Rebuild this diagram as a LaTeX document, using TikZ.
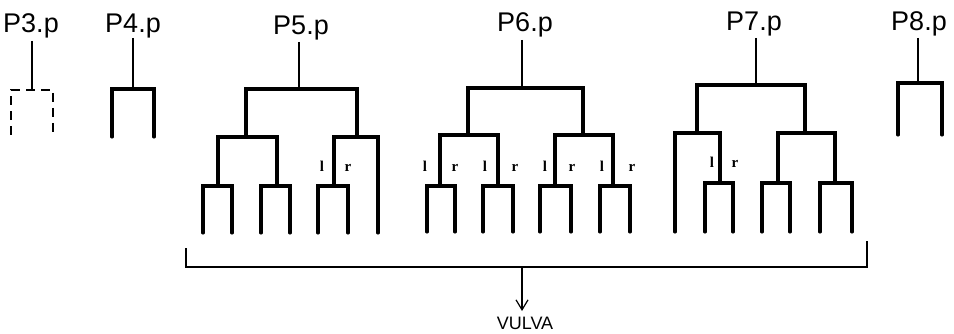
\documentclass[tikz,border=0pt]{standalone}
\usepackage{fontspec}
\newfontfamily\labfont{Liberation Sans}
\newfontfamily\lrfont{Liberation Serif}
\usetikzlibrary{arrows.meta}
\tikzset{
  tree/.style={line width=3.1pt, line cap=round, line join=miter},
  stem/.style={line width=2.2pt},
  dashtree/.style={line width=2.6pt, dash pattern=on 9pt off 6pt},
  brk/.style={line width=1.5pt},
  plabel/.style={font=\labfont\fontsize{27}{27}\selectfont, anchor=base, inner sep=0pt},
  lr/.style={font=\lrfont\bfseries\fontsize{15}{15}\selectfont, inner sep=0pt, anchor=base},
  vulva/.style={font=\labfont\fontsize{18}{18}\selectfont, inner sep=0pt, anchor=base}
}
\begin{document}
\begin{tikzpicture}[x=1pt,y=-1pt]
\useasboundingbox (0,0) rectangle (954,334);

% labels
\node[plabel] (P3) at (31,33) {P3.p};
\node[plabel] (P4) at (133,33) {P4.p};
\node[plabel] (P5) at (301,35) {P5.p};
\node[plabel] (P6) at (525,32) {P6.p};
\node[plabel] (P7) at (754,31) {P7.p};
\node[plabel] (P8) at (919,31) {P8.p};

% junction coordinates
\coordinate (j3) at (32,90);
\coordinate (j4) at (133,89);
\coordinate (j5) at (299,89);
\coordinate (j6) at (522,88);
\coordinate (j7) at (756,85);
\coordinate (j8) at (918,83);

% stems
\draw[stem] (j3 |- 0,41) -- (j3);
\draw[stem] (j4 |- 0,38) -- (j4);
\draw[stem] (j5 |- 0,42) -- (j5);
\draw[stem] (j6 |- 0,40) -- (j6);
\draw[stem] (j7 |- 0,38) -- (j7);
\draw[stem] (j8 |- 0,38) -- (j8);

% P3 (dashed)
\draw[dashtree] (11,135) |- (53,90) -- (53,135);
% P4
\draw[tree] (112,137) |- (154,89) -- (154,137);

% P5
\draw[tree] (246,137) |- (357,89) -- (357,137);
\draw[tree] (218,186) |- (277,137) -- (277,186);
\draw[tree] (203,233) |- (232,186) -- (232,233);
\draw[tree] (261,233) |- (290,186) -- (290,233);
\draw[tree] (334,186) |- (378,137) -- (378,233);
\draw[tree] (318,233) |- (348,186) -- (348,233);
\node[lr] (l5) at (322,172) {l};
\node[lr] (r5) at (348,172) {r};

% P6
\draw[tree] (468,135) |- (583,88) -- (583,135);
\draw[tree] (440,186) |- (498,135) -- (498,186);
\draw[tree] (555,186) |- (613,135) -- (613,186);
\draw[tree] (427,232) |- (455,186) -- (455,232);
\draw[tree] (483,232) |- (513,186) -- (513,232);
\draw[tree] (540,232) |- (571,186) -- (571,232);
\draw[tree] (600,232) |- (630,186) -- (630,232);
\node[lr] (l6a) at (425,172) {l};
\node[lr] (r6a) at (455,172) {r};
\node[lr] (l6b) at (485,172) {l};
\node[lr] (r6b) at (515,172) {r};
\node[lr] (l6c) at (545,172) {l};
\node[lr] (r6c) at (572,172) {r};
\node[lr] (l6d) at (602,172) {l};
\node[lr] (r6d) at (632,172) {r};

% P7
\draw[tree] (697,133) |- (805,85) -- (805,133);
\draw[tree] (675,232) |- (720,133) -- (720,183);
\draw[tree] (705,232) |- (733,183) -- (733,232);
\draw[tree] (778,183) |- (835,133) -- (835,183);
\draw[tree] (762,232) |- (790,183) -- (790,232);
\draw[tree] (820,232) |- (852,183) -- (852,232);
\node[lr] (l7) at (712,168) {l};
\node[lr] (r7) at (735,168) {r};

% P8
\draw[tree] (898,135) |- (942,83) -- (942,135);

% bracket and arrow
\coordinate (bl) at (186,248);
\coordinate (br) at (867,241);
\coordinate (bm) at (522,267);
\coordinate (tip) at (522,311);
\draw[brk] (bl) |- (br |- bm) -- (br);
\node[vulva] (V) at (525,329) {VULVA};
\draw[line width=1.2pt, -{Straight Barb[length=10pt,width=12pt,line width=1.2pt]}] (bm) -- (tip);
\end{tikzpicture}
\end{document}
